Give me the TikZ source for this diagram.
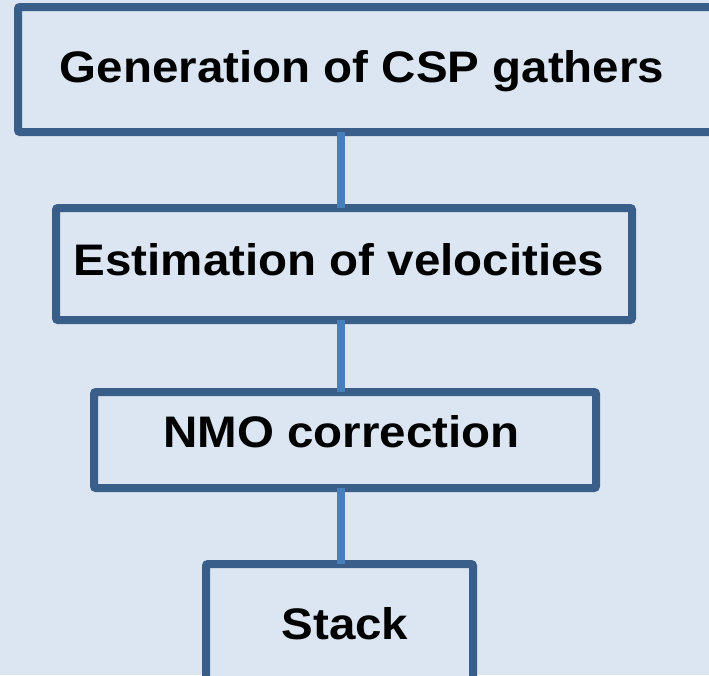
\documentclass[tikz,border=0pt]{standalone}
\usepackage{fontspec}
\usepackage{graphicx}
\setmainfont{Liberation Sans}
\definecolor{pagebg}{HTML}{DCE6F2}
\definecolor{boxline}{HTML}{395E8A}
\definecolor{linkline}{HTML}{4A7EBB}
\newcommand{\steptext}[1]{\scalebox{1}[0.93]{#1}}
\begin{document}
\begin{tikzpicture}[x=1pt,y=-1pt,
  stepbox/.style={draw=boxline,fill=pagebg,line width=8pt,rounded corners=2pt,
    inner sep=0pt,outer sep=0pt},
  steplabel/.style={anchor=base,inner sep=0pt,
    font=\fontsize{47.5}{52}\selectfont\bfseries},
  link/.style={draw=linkline,line width=8pt}]
  % page and clipping frame
  \fill[pagebg] (0,0) rectangle (709,675);
  \useasboundingbox (0,0) rectangle (709,675);
  \clip (0,0) rectangle (709,675);

  % process boxes
  \node[stepbox,minimum width=712pt,minimum height=125pt] (b1) at (374,69.5) {};
  \node[stepbox,minimum width=576pt,minimum height=112pt] (b2) at (344,264) {};
  \node[stepbox,minimum width=502pt,minimum height=96pt]  (b3) at (345,440) {};
  \node[stepbox,minimum width=267pt,minimum height=140pt] (b4) at (339.5,634) {};

  % labels
  \node[steplabel] (t1) at (362,82.5)  {\steptext{Generation of CSP gathers}};
  \node[steplabel] (t2) at (339,275)   {\steptext{Estimation of velocities}};
  \node[steplabel] (t3) at (341.5,447.5) {\steptext{NMO correction}};
  \node[steplabel] (t4) at (345,639.5) {\steptext{Stack}};

  % vertical links between the steps
  \coordinate (axis) at (341,0);
  \draw[link] (b1.south -| axis) -- (b2.north -| axis);
  \draw[link] (b2.south -| axis) -- (b3.north -| axis);
  \draw[link] (b3.south -| axis) -- (b4.north -| axis);
\end{tikzpicture}
\end{document}
